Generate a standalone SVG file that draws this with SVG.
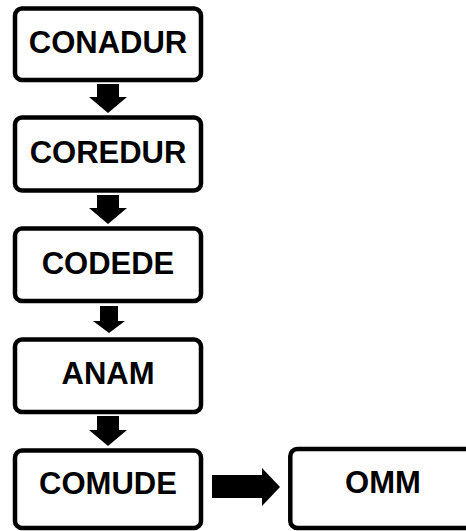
<svg xmlns="http://www.w3.org/2000/svg" width="466" height="531" viewBox="0 0 466 531">
<style>
.box{fill:#fff;stroke:#000;stroke-width:4.5}
.lbl{font-family:"Liberation Sans",Arial,sans-serif;font-weight:bold;font-size:31px;text-anchor:middle;fill:#000}
.arr{fill:#000}
</style>
<rect width="466" height="531" fill="#fff"/>
<g id="conadur"><rect class="box" x="15" y="8.5" width="186" height="71.5" rx="7"/><text class="lbl" x="108" y="53">CONADUR</text></g>
<g id="coredur"><rect class="box" x="15" y="117.5" width="186" height="73" rx="7"/><text class="lbl" x="108" y="163">COREDUR</text></g>
<g id="codede"><rect class="box" x="15" y="228.5" width="186" height="72.5" rx="7"/><text class="lbl" x="108" y="274">CODEDE</text></g>
<g id="anam"><rect class="box" x="15" y="339.5" width="186" height="72.5" rx="7"/><text class="lbl" x="108" y="384">ANAM</text></g>
<g id="comude"><rect class="box" x="15" y="450.5" width="186" height="77.5" rx="7"/><text class="lbl" x="108" y="494">COMUDE</text></g>
<g id="omm"><rect class="box" x="290.3" y="449" width="186" height="79" rx="7"/><text class="lbl" x="383" y="493">OMM</text></g>
<g id="connectors">
<polygon class="arr" points="97,84 119,84 119,97 127,97 108,113 89,97 97,97"/>
<polygon class="arr" points="97,195 119,195 119,208 127,208 108,224 89,208 97,208"/>
<polygon class="arr" points="100,306 118,306 118,321 125,321 109,333 93,321 100,321"/>
<polygon class="arr" points="97,416 119,416 119,430 127,430 108,446 89,430 97,430"/>
<polygon class="arr" points="212,475 262,475 262,468 280,487 262,506 262,498 212,498"/>
</g>
</svg>
